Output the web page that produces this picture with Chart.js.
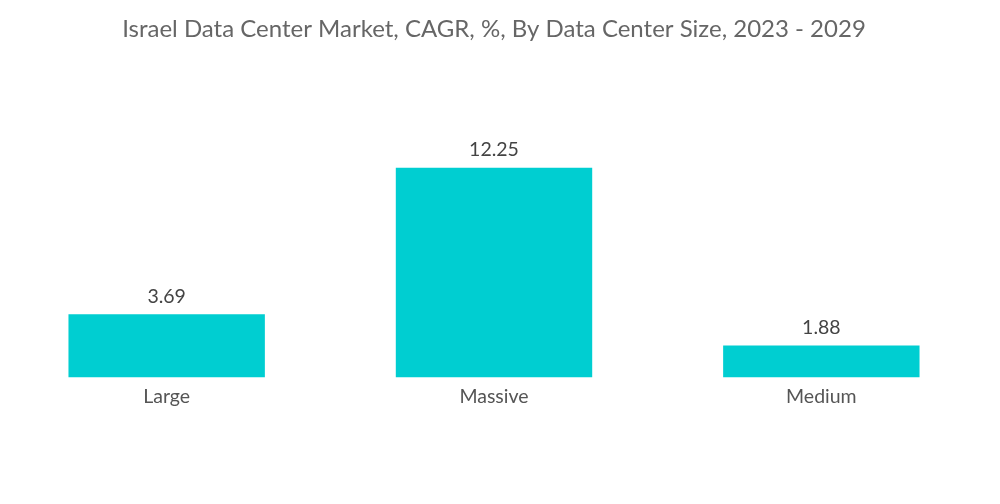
<!DOCTYPE html>
<html>
<head>
<meta charset="utf-8">
<script src="https://cdn.jsdelivr.net/npm/chart.js@4.4.0/dist/chart.umd.min.js"></script>
<style>
  html, body { margin: 0; padding: 0; background: #fff; }
  #wrap { width: 1000px; height: 504px; }
</style>
</head>
<body>
<div id="wrap"><canvas id="chart"></canvas></div>
<script>
var categories = ["Large", "Massive", "Medium"];
var cagrValues = [3.69, 12.25, 1.88];
var barColor = "#00CED1";

// draws the value above each bar
var valueLabels = {
  id: "valueLabels",
  afterDatasetsDraw: function(chart) {
    var ctx = chart.ctx;
    var meta = chart.getDatasetMeta(0);
    ctx.save();
    ctx.font = "19.5px Lato";
    ctx.fillStyle = "#444";
    ctx.textAlign = "center";
    ctx.textBaseline = "bottom";
    meta.data.forEach(function(bar, i) {
      ctx.fillText(cagrValues[i].toFixed(2), bar.x, bar.y - 8);
    });
    ctx.restore();
  }
};

var ctx = document.getElementById("chart").getContext("2d");
var chart = new Chart(ctx, {
  type: "bar",
  data: {
    labels: categories,
    datasets: [{
      label: "CAGR, %",
      data: cagrValues,
      backgroundColor: barColor,
      borderWidth: 0,
      barPercentage: 1,
      categoryPercentage: 0.6
    }]
  },
  options: {
    responsive: true,
    maintainAspectRatio: false,
    animation: false,
    layout: {
      padding: { left: 3, right: 15, top: 0, bottom: 97 }
    },
    plugins: {
      legend: { display: false },
      tooltip: { enabled: false },
      title: {
        display: true,
        text: "Israel Data Center Market, CAGR, %, By Data Center Size, 2023 - 2029",
        color: "#666",
        font: { family: "Lato", size: 24, weight: "normal" },
        padding: { top: 15, bottom: 18 }
      }
    },
    scales: {
      x: {
        grid: { display: false },
        border: { display: false },
        ticks: {
          color: "#555",
          font: { family: "Lato", size: 19.5 },
          padding: -1
        }
      },
      y: {
        display: false,
        min: 0,
        max: 18.43
      }
    }
  },
  plugins: [valueLabels]
});
</script>
</body>
</html>
